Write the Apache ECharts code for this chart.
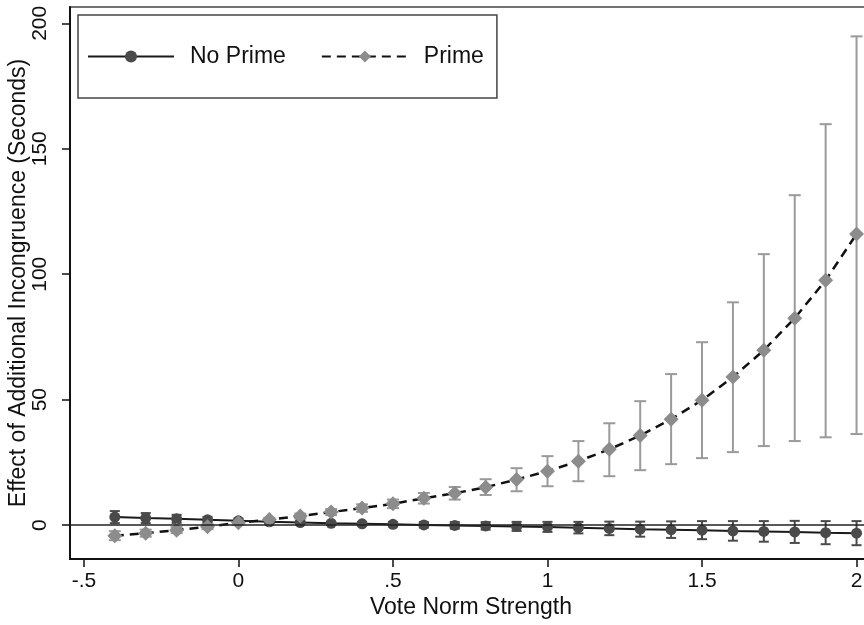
<!DOCTYPE html>
<html>
<head>
<meta charset="utf-8">
<script src="https://cdn.jsdelivr.net/npm/echarts@6/dist/echarts.min.js"></script>
<style>
  html, body { margin: 0; padding: 0; background: #fff; }
  #chart { width: 864px; height: 625px; }
</style>
</head>
<body>
<div id="chart"></div>
<script>
// vote norm strength
var xs = [-0.4, -0.3, -0.2, -0.1, 0, 0.1, 0.2, 0.3, 0.4, 0.5, 0.6, 0.7, 0.8,
          0.9, 1.0, 1.1, 1.2, 1.3, 1.4, 1.5, 1.6, 1.7, 1.8, 1.9, 2.0];

var noPrime   = [3.2, 2.8, 2.5, 2.1, 1.7, 1.3, 1.0, 0.7, 0.5, 0.3, 0.1, -0.1, -0.3,
                 -0.5, -0.7, -1.0, -1.3, -1.6, -1.8, -2.0, -2.3, -2.5, -2.7, -3.0, -3.2];
var noPrimeLo = [0.8, 0.8, 0.9, 0.9, 0.8, 0.6, 0.4, 0.1, -0.2, -0.6, -1.0, -1.4, -1.8,
                 -2.3, -2.7, -3.3, -4.0, -4.6, -5.1, -5.6, -6.2, -6.6, -7.1, -7.6, -8.0];
var noPrimeHi = [5.6, 4.8, 4.1, 3.3, 2.6, 2.0, 1.6, 1.3, 1.2, 1.2, 1.2, 1.2, 1.2,
                 1.3, 1.3, 1.3, 1.4, 1.4, 1.5, 1.6, 1.6, 1.6, 1.7, 1.6, 1.6];

var prime   = [-4.2, -3.2, -2.0, -0.6, 0.9, 2.2, 3.6, 5.2, 6.8, 8.5, 10.7, 12.7, 15.1,
               18.2, 21.5, 25.5, 30.2, 35.7, 42.2, 49.8, 59.0, 69.7, 82.5, 97.6, 116.0];
var primeLo = [-6.0, -4.6, -3.2, -1.6, 0.2, 1.5, 2.6, 4.0, 5.3, 6.8, 8.6, 10.2, 12.0,
               13.5, 15.5, 17.5, 19.5, 21.9, 24.3, 26.7, 29.1, 31.5, 33.5, 35.0, 36.3];
var primeHi = [-2.4, -1.8, -0.8, 0.4, 1.6, 2.9, 4.6, 6.4, 8.3, 10.2, 12.8, 15.2, 18.3,
               22.7, 27.5, 33.5, 40.6, 49.4, 60.2, 72.9, 88.8, 108.0, 131.5, 159.8, 194.8];

var xTicks = [-0.5, 0, 0.5, 1, 1.5, 2];
var xTickLabels = ['-.5', '0', '.5', '1', '1.5', '2'];
var yTicks = [0, 50, 100, 150, 200];

var FONT = 'Liberation Sans';

function pairs(a, b) {
    return a.map(function (v, i) { return [v, b[i]]; });
}
function bars(lo, hi) {
    return xs.map(function (x, i) { return [x, lo[i], hi[i]]; });
}
function capRenderer(color, capHalf) {
    return function (params, api) {
        var x = api.value(0);
        var top = api.coord([x, api.value(2)]);
        var bot = api.coord([x, api.value(1)]);
        var st = { stroke: color, lineWidth: 2 };
        return {
            type: 'group',
            children: [
                { type: 'line', shape: { x1: top[0], y1: top[1], x2: bot[0], y2: bot[1] }, style: st },
                { type: 'line', shape: { x1: top[0] - capHalf, y1: top[1], x2: top[0] + capHalf, y2: top[1] }, style: st },
                { type: 'line', shape: { x1: bot[0] - capHalf, y1: bot[1], x2: bot[0] + capHalf, y2: bot[1] }, style: st }
            ]
        };
    };
}

var chart = echarts.init(document.getElementById('chart'));

var option = {
    backgroundColor: '#fff',
    animation: false,
    textStyle: { fontFamily: FONT },
    grid: {
        left: 70, top: 7, width: 802, height: 552,
        outerBoundsMode: 'none',
        containLabel: false,
        show: true, borderColor: '#444', borderWidth: 1.5
    },
    legend: {
        data: ['No Prime', 'Prime'],
        left: 78, top: 15,
        orient: 'horizontal',
        padding: [30, 13, 30, 9],
        borderColor: '#444', borderWidth: 1.5,
        itemWidth: 86, itemHeight: 15, itemGap: 35,
        textStyle: { fontFamily: FONT, fontSize: 23, color: '#111', padding: [0, 0, 0, 11] }
    },
    xAxis: {
        type: 'value',
        min: -0.545, max: 2.05,
        name: 'Vote Norm Strength',
        nameLocation: 'middle',
        nameGap: 37,
        nameMoveOverlap: false,
        nameTextStyle: { fontFamily: FONT, fontSize: 23, color: '#111' },
        axisLine: { onZero: false, lineStyle: { color: '#111', width: 2 } },
        axisTick: { show: true, customValues: xTicks, length: 8, lineStyle: { color: '#111', width: 1.5 } },
        axisLabel: {
            customValues: xTicks, margin: 12,
            fontFamily: FONT, fontSize: 21, color: '#111',
            formatter: function (v) {
                var i = xTicks.indexOf(v);
                return i >= 0 ? xTickLabels[i] : '';
            }
        },
        splitLine: { show: false }
    },
    yAxis: {
        type: 'value',
        min: -13.5, max: 206.5,
        name: 'Effect of Additional Incongruence (Seconds)',
        nameLocation: 'middle',
        nameGap: 40,
        nameMoveOverlap: false,
        nameTextStyle: { fontFamily: FONT, fontSize: 23, color: '#111' },
        axisLine: { show: true, onZero: false, lineStyle: { color: '#111', width: 2 } },
        axisTick: { show: true, customValues: yTicks, length: 8, lineStyle: { color: '#111', width: 1.5 } },
        axisLabel: {
            customValues: yTicks, rotate: 90, margin: 19,
            fontFamily: FONT, fontSize: 21, color: '#111'
        },
        splitLine: { show: false }
    },
    series: [
        {
            name: 'No Prime CI',
            type: 'custom',
            z: 1,
            renderItem: capRenderer('#4a4a4a', 5),
            encode: { x: 0, y: [1, 2] },
            data: bars(noPrimeLo, noPrimeHi)
        },
        {
            name: 'Prime CI',
            type: 'custom',
            z: 1,
            renderItem: capRenderer('#9a9a9a', 6),
            encode: { x: 0, y: [1, 2] },
            data: bars(primeLo, primeHi)
        },
        {
            name: 'No Prime',
            type: 'line',
            z: 3,
            data: pairs(xs, noPrime),
            symbol: 'circle',
            symbolSize: 11,
            color: '#4a4a4a',
            itemStyle: { color: '#4a4a4a' },
            lineStyle: { color: '#1a1a1a', width: 2 },
            markLine: {
                silent: true,
                symbol: 'none',
                label: { show: false },
                lineStyle: { color: '#222', width: 1.5, type: 'solid' },
                data: [{ yAxis: 0 }]
            }
        },
        {
            name: 'Prime',
            type: 'line',
            z: 4,
            data: pairs(xs, prime),
            symbol: 'diamond',
            symbolSize: 15,
            color: '#8c8c8c',
            itemStyle: { color: '#8c8c8c' },
            lineStyle: { color: '#111', width: 2.5, type: [9, 6] }
        }
    ]
};

chart.setOption(option);
</script>
</body>
</html>
